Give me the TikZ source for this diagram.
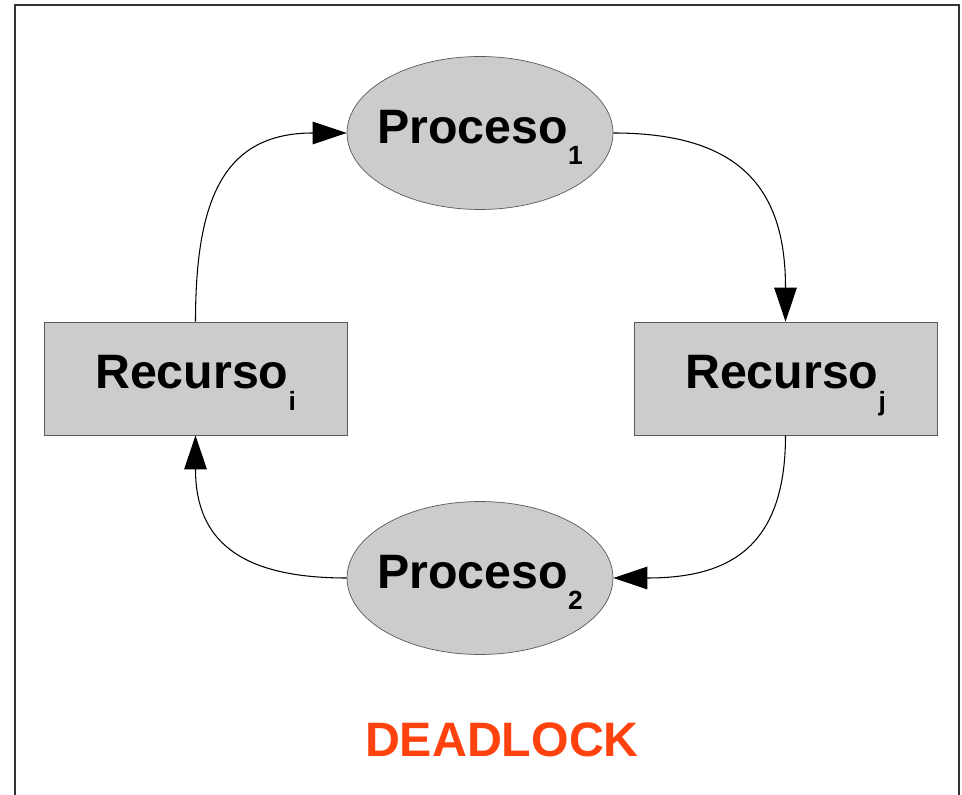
\documentclass[tikz,border=0pt]{standalone}
\usepackage{fontspec}
\setmainfont{Liberation Sans}
\usetikzlibrary{shapes.geometric,arrows.meta}
\definecolor{lockred}{RGB}{255,66,14}
\definecolor{boxgray}{RGB}{204,204,204}
% lowered index after a bold label
\newcommand{\idx}[1]{\raisebox{-12pt}[0pt][7pt]{\fontsize{15}{16}\selectfont #1}}

\begin{document}
\begin{tikzpicture}[x=0.02cm,y=0.02cm,
    proc/.style={ellipse,draw=black!65,fill=boxgray,inner ysep=0pt,
      inner xsep=-6pt,minimum width=5.32cm,minimum height=3.06cm},
    recurso/.style={rectangle,draw=black!65,fill=boxgray,inner sep=0pt,
      minimum width=6.06cm,minimum height=2.26cm},
    every node/.append style={font=\fontsize{27.5}{30}\selectfont\bfseries},
    flecha/.style={-{Triangle[length=0.68cm,width=0.45cm]},line width=0.6pt}]
  \useasboundingbox (0,0) rectangle (962,794);
  % open frame, no bottom edge
  \draw[line width=1.1pt,black!80] (15,-5) -- (15,789) -- (959,789) -- (959,-5);
  \node[proc] (p1) at (480,661) {Proceso\idx{1}};
  \node[proc] (p2) at (480,216) {Proceso\idx{2}};
  \node[recurso] (ri) at (195.5,415.5) {Recurso\idx{i}};
  \node[recurso] (rj) at (785.5,415.5) {Recurso\idx{j}};
  \node[text=lockred] (dl) at (502,54) {DEADLOCK};
  % the wait cycle
  \foreach \a/\b/\o/\i in {ri.north/p1.west/90/180, p1.east/rj.north/0/90,
      rj.south/p2.east/270/0, p2.west/ri.south/180/270}{
    \draw[flecha] (\a) to[out=\o,in=\i,looseness=1.3] (\b);
  }
\end{tikzpicture}
\end{document}
